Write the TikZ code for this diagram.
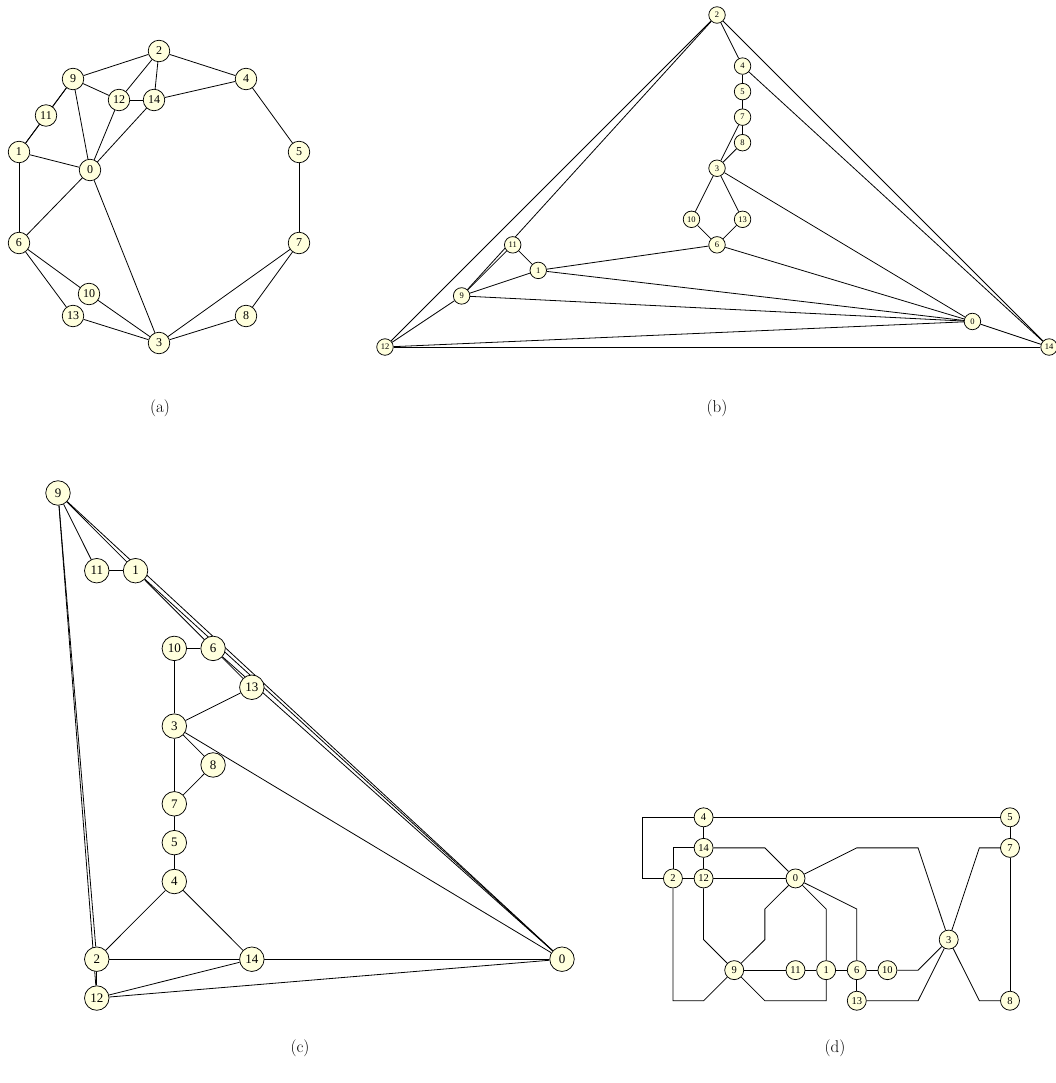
\documentclass[tikz,border=0pt]{standalone}
\usepackage{fontspec}
\newfontfamily\vertexfont{Liberation Serif}
\usetikzlibrary{backgrounds}
\definecolor{vertexfill}{RGB}{255,255,221}

\begin{document}
\begin{tikzpicture}[
  x=1pt, y=-1pt,
  vertex/.style={circle, draw=black, line width=0.75pt, fill=vertexfill, inner sep=0pt},
  vxa/.style={vertex, minimum size=21.5pt, font=\vertexfont\fontsize{12}{12}\selectfont},
  vxb/.style={vertex, minimum size=16.5pt, font=\vertexfont\fontsize{8.5}{8.5}\selectfont},
  vxc/.style={vertex, minimum size=24.5pt, font=\vertexfont\fontsize{13}{13}\selectfont},
  vxd/.style={vertex, minimum size=19pt, font=\vertexfont\fontsize{10.5}{10.5}\selectfont},
  link/.style={line width=0.8pt, draw=black},
  caption/.style={font=\fontsize{17}{20}\selectfont},
]
\useasboundingbox (0,0) rectangle (1055,1083);

%% (a) circular layout
\node[vxa] (a2)  at (159,51)  {2};
\node[vxa] (a4)  at (246,79)  {4};
\node[vxa] (a5)  at (299,152) {5};
\node[vxa] (a7)  at (299,243) {7};
\node[vxa] (a8)  at (246,316) {8};
\node[vxa] (a3)  at (159,343) {3};
\node[vxa] (a13) at (73,316)  {13};
\node[vxa] (a6)  at (19,243)  {6};
\node[vxa] (a1)  at (19,152)  {1};
\node[vxa] (a9)  at (73,79)   {9};
\node[vxa] (a11) at (46,115.5) {11};
\node[vxa] (a12) at (119,100) {12};
\node[vxa] (a14) at (154,100) {14};
\node[vxa] (a0)  at (90,170)  {0};
\node[vxa] (a10) at (89,294)  {10};
\node[caption] (capa) at (160,408) {(a)};

%% (b) straight-line grid layout
\begin{scope}[shift={(385,15)}, x=25.54pt, y=-25.54pt]
\node[vxb] (b12) at (0,13)  {12};
\node[vxb] (b9)  at (3,11)  {9};
\node[vxb] (b11) at (5,9)   {11};
\node[vxb] (b1)  at (6,10)  {1};
\node[vxb] (b10) at (12,8)  {10};
\node[vxb] (b2)  at (13,0)  {2};
\node[vxb] (b3)  at (13,6)  {3};
\node[vxb] (b6)  at (13,9)  {6};
\node[vxb] (b4)  at (14,2)  {4};
\node[vxb] (b5)  at (14,3)  {5};
\node[vxb] (b7)  at (14,4)  {7};
\node[vxb] (b8)  at (14,5)  {8};
\node[vxb] (b13) at (14,8)  {13};
\node[vxb] (b0)  at (23,12) {0};
\node[vxb] (b14) at (26,13) {14};
\end{scope}
\node[caption] (capb) at (717,408) {(b)};

%% (c) another grid layout
\begin{scope}[shift={(58,493)}, x=38.77pt, y=-38.85pt]
\node[vxc] (c9)  at (0,0)   {9};
\node[vxc] (c11) at (1,2)   {11};
\node[vxc] (c1)  at (2,2)   {1};
\node[vxc] (c10) at (3,4)   {10};
\node[vxc] (c6)  at (4,4)   {6};
\node[vxc] (c13) at (5,5)   {13};
\node[vxc] (c3)  at (3,6)   {3};
\node[vxc] (c8)  at (4,7)   {8};
\node[vxc] (c7)  at (3,8)   {7};
\node[vxc] (c5)  at (3,9)   {5};
\node[vxc] (c4)  at (3,10)  {4};
\node[vxc] (c2)  at (1,12)  {2};
\node[vxc] (c14) at (5,12)  {14};
\node[vxc] (c12) at (1,13)  {12};
\node[vxc] (c0)  at (13,12) {0};
\end{scope}
\node[caption] (capc) at (300,1048) {(c)};

%% straight edges of (a)--(c)
\begin{scope}[on background layer]
\foreach \p in {a,b,c}
  \foreach \u/\v in {0/1,0/3,0/6,0/9,0/12,0/14,1/6,1/9,1/11,2/4,2/9,2/12,2/14,
                     3/7,3/8,3/10,3/13,4/5,4/14,5/7,6/10,6/13,7/8,9/11,9/12,12/14}
    \draw[link] (\p\u) -- (\p\v);
\end{scope}

%% (d) orthogonal layout with bends
\begin{scope}[shift={(642.3,817.3)}, x=30.64pt, y=-30.57pt]
\node[vxd] (d4)  at (2,0)  {4};
\node[vxd] (d5)  at (12,0) {5};
\node[vxd] (d14) at (2,1)  {14};
\node[vxd] (d7)  at (12,1) {7};
\node[vxd] (d2)  at (1,2)  {2};
\node[vxd] (d12) at (2,2)  {12};
\node[vxd] (d0)  at (5,2)  {0};
\node[vxd] (d3)  at (10,4) {3};
\node[vxd] (d9)  at (3,5)  {9};
\node[vxd] (d11) at (5,5)  {11};
\node[vxd] (d1)  at (6,5)  {1};
\node[vxd] (d6)  at (7,5)  {6};
\node[vxd] (d10) at (8,5)  {10};
\node[vxd] (d13) at (7,6)  {13};
\node[vxd] (d8)  at (12,6) {8};

\begin{scope}[on background layer]
\draw[link] (d4) -- (d5);
\draw[link] (d4) -- (0,0) -- (0,2) -- (d2);
\draw[link] (d4) -- (d14);
\draw[link] (d14) -- (d12);
\draw[link] (d2) -- (d12);
\draw[link] (d12) -- (d0);
\draw[link] (d14) -- (4,1) -- (d0);
\draw[link] (d2) -- (1,1) -- (d14);
\draw[link] (d0) -- (7,1) -- (9,1) -- (d3);
\draw[link] (d5) -- (d7);
\draw[link] (d7) -- (11,1) -- (d3);
\draw[link] (d7) -- (d8);
\draw[link] (d3) -- (11,6) -- (d8);
\draw[link] (d12) -- (2,4) -- (d9);
\draw[link] (d0) -- (4,3) -- (4,4) -- (d9);
\draw[link] (d0) -- (6,3) -- (d1);
\draw[link] (d0) -- (7,3) -- (d6);
\draw[link] (d9) -- (d11);
\draw[link] (d11) -- (d1);
\draw[link] (d1) -- (d6);
\draw[link] (d6) -- (d10);
\draw[link] (d10) -- (9,5) -- (d3);
\draw[link] (d6) -- (d13);
\draw[link] (d13) -- (9,6) -- (d3);
\draw[link] (d2) -- (1,6) -- (2,6) -- (d9);
\draw[link] (d9) -- (4,6) -- (6,6) -- (d1);
\end{scope}
\end{scope}
\node[caption] (capd) at (835,1048) {(d)};
\end{tikzpicture}
\end{document}
